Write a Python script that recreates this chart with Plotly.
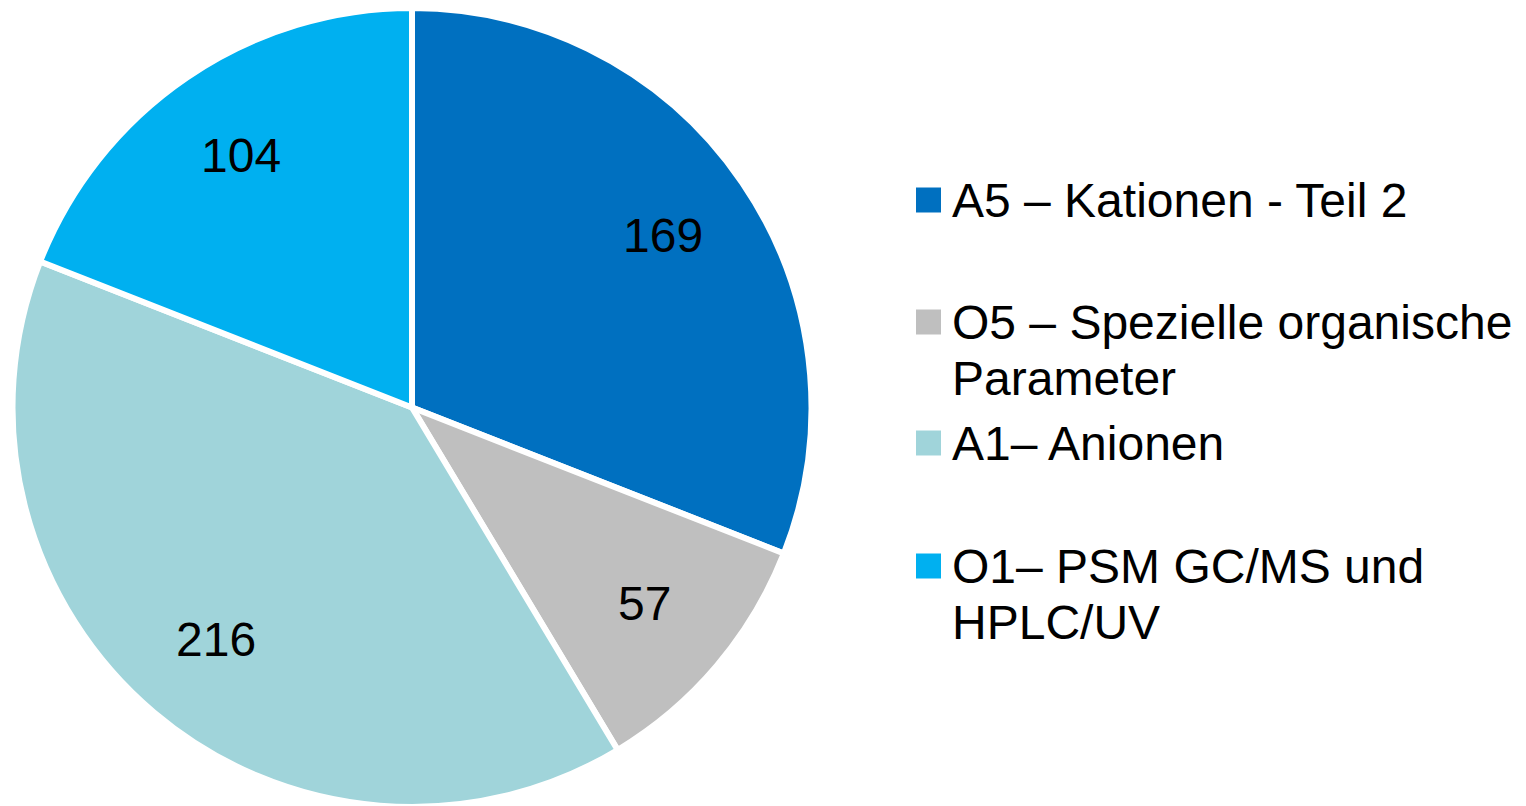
import math
import plotly.graph_objects as go

# data
labels = ["A5 – Kationen - Teil 2", "O5 – Spezielle organische Parameter",
          "A1– Anionen", "O1– PSM GC/MS und HPLC/UV"]
legend_lines = [["A5 – Kationen - Teil 2"],
                ["O5 – Spezielle organische", "Parameter"],
                ["A1– Anionen"],
                ["O1– PSM GC/MS und", "HPLC/UV"]]
values = [169, 57, 216, 104]
colors = ["#0070C0", "#BFBFBF", "#A0D4DA", "#00B0F0"]

W, H = 1526, 806
FONT = "Liberation Sans, Arial, sans-serif"

# pie geometry in figure pixels (page body adds an 8px offset)
CX, CY, R = 404, 399, 400

fig = go.Figure()
fig.add_trace(go.Pie(
    labels=labels,
    values=values,
    sort=False,
    direction="clockwise",
    rotation=0,
    marker=dict(colors=colors, line=dict(color="white", width=6)),
    textinfo="none",
    domain=dict(x=[(CX - R) / W, (CX + R) / W], y=[1 - (CY + R) / H, 1.0]),
    showlegend=False,
    hoverinfo="label+value",
))

# value labels placed like PowerPoint does: on the mid angle, ~3/4 of the radius
total = sum(values)
start = 0.0
for v in values:
    mid = (start + v / 2) / total * 2 * math.pi
    start += v
    px = CX + 0.76 * R * math.sin(mid)
    py = CY - 0.76 * R * math.cos(mid)
    fig.add_annotation(text=str(v), xref="paper", yref="paper",
                       x=px / W, y=1 - py / H, xanchor="center", yanchor="middle",
                       showarrow=False,
                       font=dict(family=FONT, size=48, color="black"))

# hand-made legend so the uneven spacing of the original can be kept
first_line_y = [192, 314, 435, 558]   # px from top of figure
LINE_STEP = 56
for lines, col, y0 in zip(legend_lines, colors, first_line_y):
    fig.add_shape(type="rect", xref="paper", yref="paper",
                  x0=908 / W, x1=933 / W,
                  y0=1 - (y0 + 12.5) / H, y1=1 - (y0 - 12.5) / H,
                  fillcolor=col, line=dict(width=0))
    for i, line in enumerate(lines):
        fig.add_annotation(text=line, xref="paper", yref="paper",
                           x=942 / W, y=1 - (y0 + i * LINE_STEP) / H,
                           xanchor="left", yanchor="middle",
                           showarrow=False,
                           font=dict(family=FONT, size=48, color="black"))

fig.update_layout(
    width=W, height=H,
    margin=dict(l=0, r=0, t=0, b=0),
    paper_bgcolor="white",
    plot_bgcolor="white",
)

fig.write_html("out.html")
